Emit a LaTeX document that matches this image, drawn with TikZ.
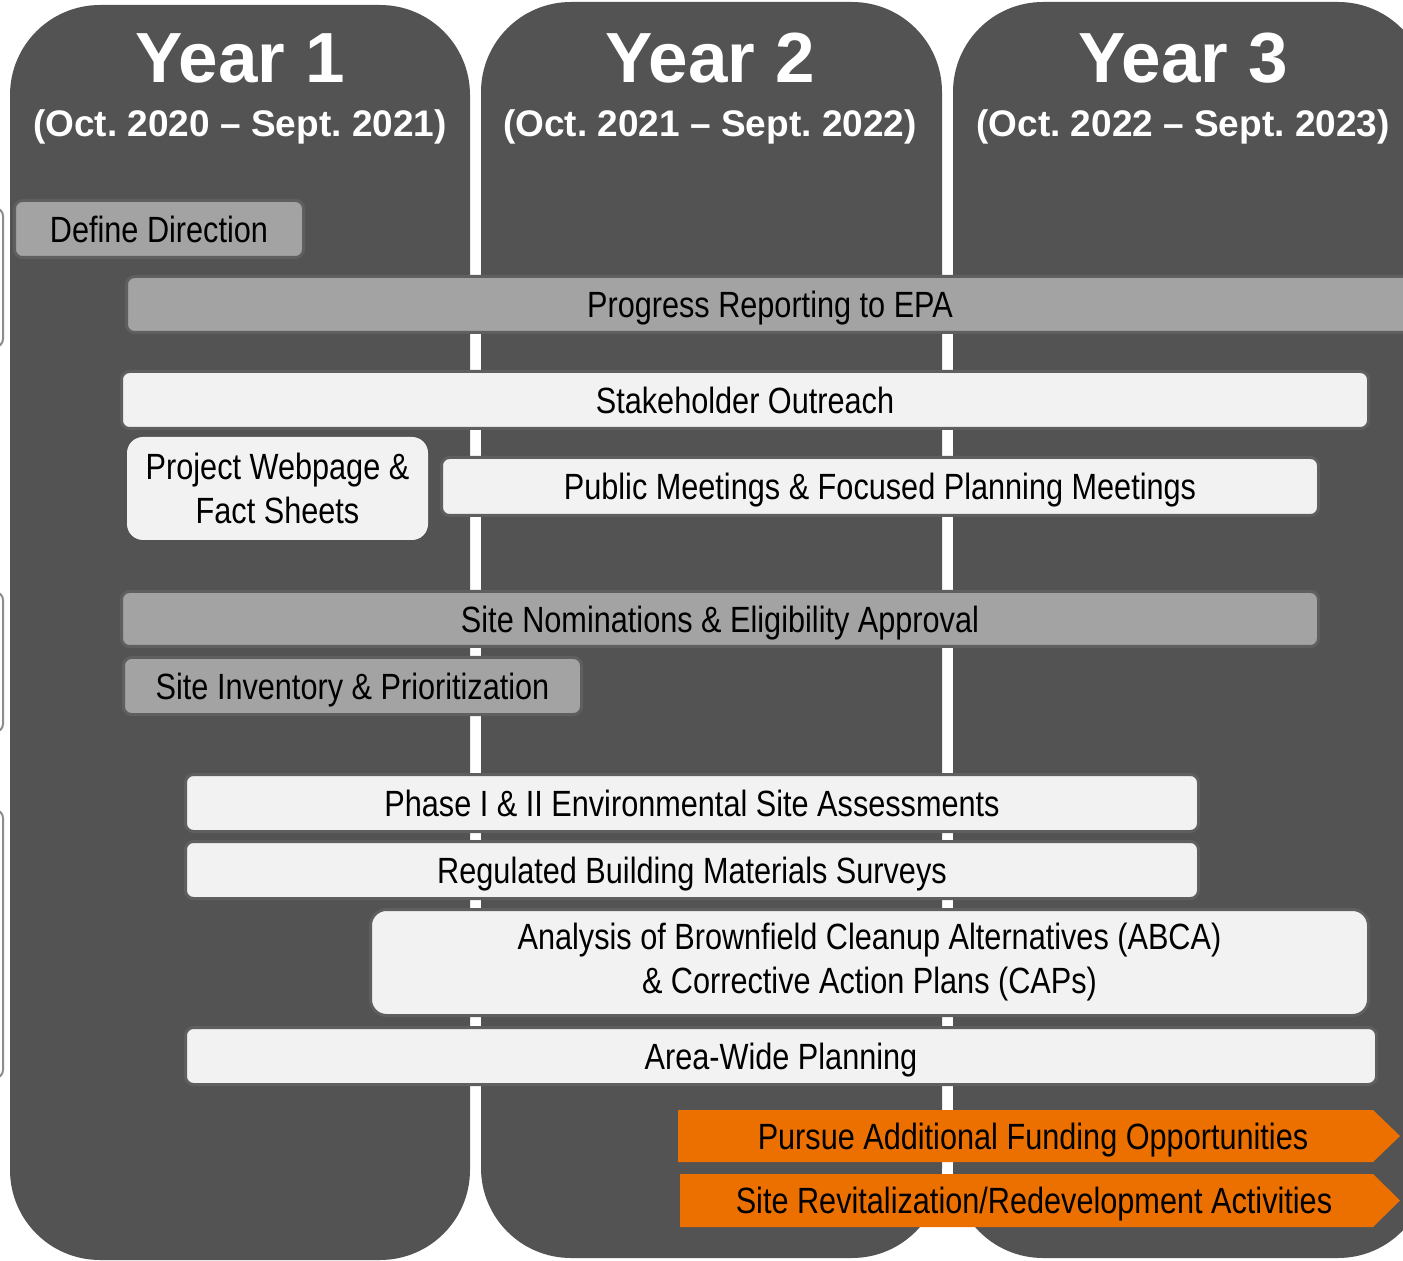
\documentclass[tikz,border=0pt]{standalone}
\usepackage{fontspec}
\setmainfont{Liberation Sans}
\newfontfamily\narrowfont{Liberation Sans}[FakeStretch=0.84]
\usepackage{tikz}
\usetikzlibrary{positioning}
\definecolor{panelgray}{RGB}{83,83,83}
\definecolor{ringgray}{RGB}{95,95,95}
\definecolor{midgray}{RGB}{163,163,163}
\definecolor{lightgray}{RGB}{242,242,242}
\definecolor{edgegray}{RGB}{140,140,140}
\definecolor{taskorange}{RGB}{236,112,0}
\frenchspacing

\begin{document}
\begin{tikzpicture}[
    x=0.5pt, y=-0.5pt,     % one unit = one pixel of the layout
    yearcol/.style={fill=panelgray, rounded corners=45pt},
    yearhead/.style={anchor=base, text=white, font=\fontsize{35.5}{40}\selectfont\bfseries},
    datehead/.style={anchor=base, text=white, font=\fontsize{18.5}{22}\selectfont\bfseries},
    task/.style={rectangle, rounded corners=4pt, inner sep=0pt, align=center,
                 font=\narrowfont\fontsize{18.25}{22}\selectfont},
    capline/.style={text height=13.1pt, text depth=0pt},
    greybar/.style={task, capline, draw=ringgray, line width=1.5pt, fill=midgray},
    lightbar/.style={task, capline, draw=ringgray, line width=1.5pt, fill=lightgray},
    lightblock/.style={task, rounded corners=8pt, draw=ringgray, line width=1.5pt, fill=lightgray},
    flagtext/.style={task, capline}
]
\useasboundingbox (0,0) rectangle (1403,1261);
\clip (0,0) rectangle (1403,1261);

% cut-off boxes at the left margin
\foreach \ytop/\ybot in {208/347, 592/732, 810/1078}
  \draw[edgegray, line width=1pt, fill=white, rounded corners=4pt] (-60,\ytop) rectangle (3,\ybot);

% year columns
\fill[yearcol] (10,5) rectangle (470,1260);
\fill[yearcol] (481,2) rectangle (942,1258);
\fill[yearcol] (953,2) rectangle (1428,1258);

\node[yearhead] (year1) at (240,83) {Year 1};
\node[yearhead] (year2) at (710,83) {Year 2};
\node[yearhead] (year3) at (1183,83) {Year 3};
\node[datehead] (dates1) at (240,137) {(Oct. 2020 – Sept. 2021)};
\node[datehead] (dates2) at (710,137) {(Oct. 2021 – Sept. 2022)};
\node[datehead] (dates3) at (1183,137) {(Oct. 2022 – Sept. 2023)};

% tasks
\node[greybar, minimum width=144.5pt, minimum height=28.5pt] (direction) at (159,229) {Define Direction};
\node[greybar, minimum width=643.5pt, minimum height=28pt] (reporting) at (770,304.5) {Progress Reporting to EPA};
\node[lightbar, minimum width=623.5pt, minimum height=28.5pt] (outreach) at (745,400) {Stakeholder Outreach};
\node[task, fill=lightgray, rounded corners=8pt, minimum width=150.5pt, minimum height=51.5pt] (webpage) at (277.5,488.5) {Project Webpage \&\\Fact Sheets};
\node[lightbar, minimum width=438.5pt, minimum height=29pt] (meetings) at (880,486.5) {Public Meetings \& Focused Planning Meetings};
\node[greybar, minimum width=598.5pt, minimum height=27.5pt] (nominations) at (720,619) {Site Nominations \& Eligibility Approval};
\node[greybar, minimum width=229pt, minimum height=28.5pt] (inventory) at (352.5,686) {Site Inventory \& Prioritization};
\node[lightbar, minimum width=506.5pt, minimum height=28.5pt] (esa) at (692,803) {Phase I \& II Environmental Site Assessments};
\node[lightbar, minimum width=506.5pt, minimum height=28.5pt] (surveys) at (692,870) {Regulated Building Materials Surveys};
\node[lightblock, minimum width=499pt, minimum height=53pt] (abca) at (869.5,962.5) {Analysis of Brownfield Cleanup Alternatives (ABCA)\\\& Corrective Action Plans (CAPs)};
\node[lightbar, minimum width=595.5pt, minimum height=28.5pt] (areawide) at (781,1056) {Area-Wide Planning};

% orange flags
\fill[taskorange] (678,1110) -- (1373,1110) -- (1400,1136) -- (1373,1162) -- (678,1162) -- cycle;
\fill[taskorange] (680,1174) -- (1373,1174) -- (1400,1200.5) -- (1373,1227) -- (680,1227) -- cycle;
\node[flagtext] (funding) at (1033,1136) {Pursue Additional Funding Opportunities};
\node[flagtext] (revital) at (1034,1200.5) {Site Revitalization/Redevelopment Activities};

\end{tikzpicture}
\end{document}
